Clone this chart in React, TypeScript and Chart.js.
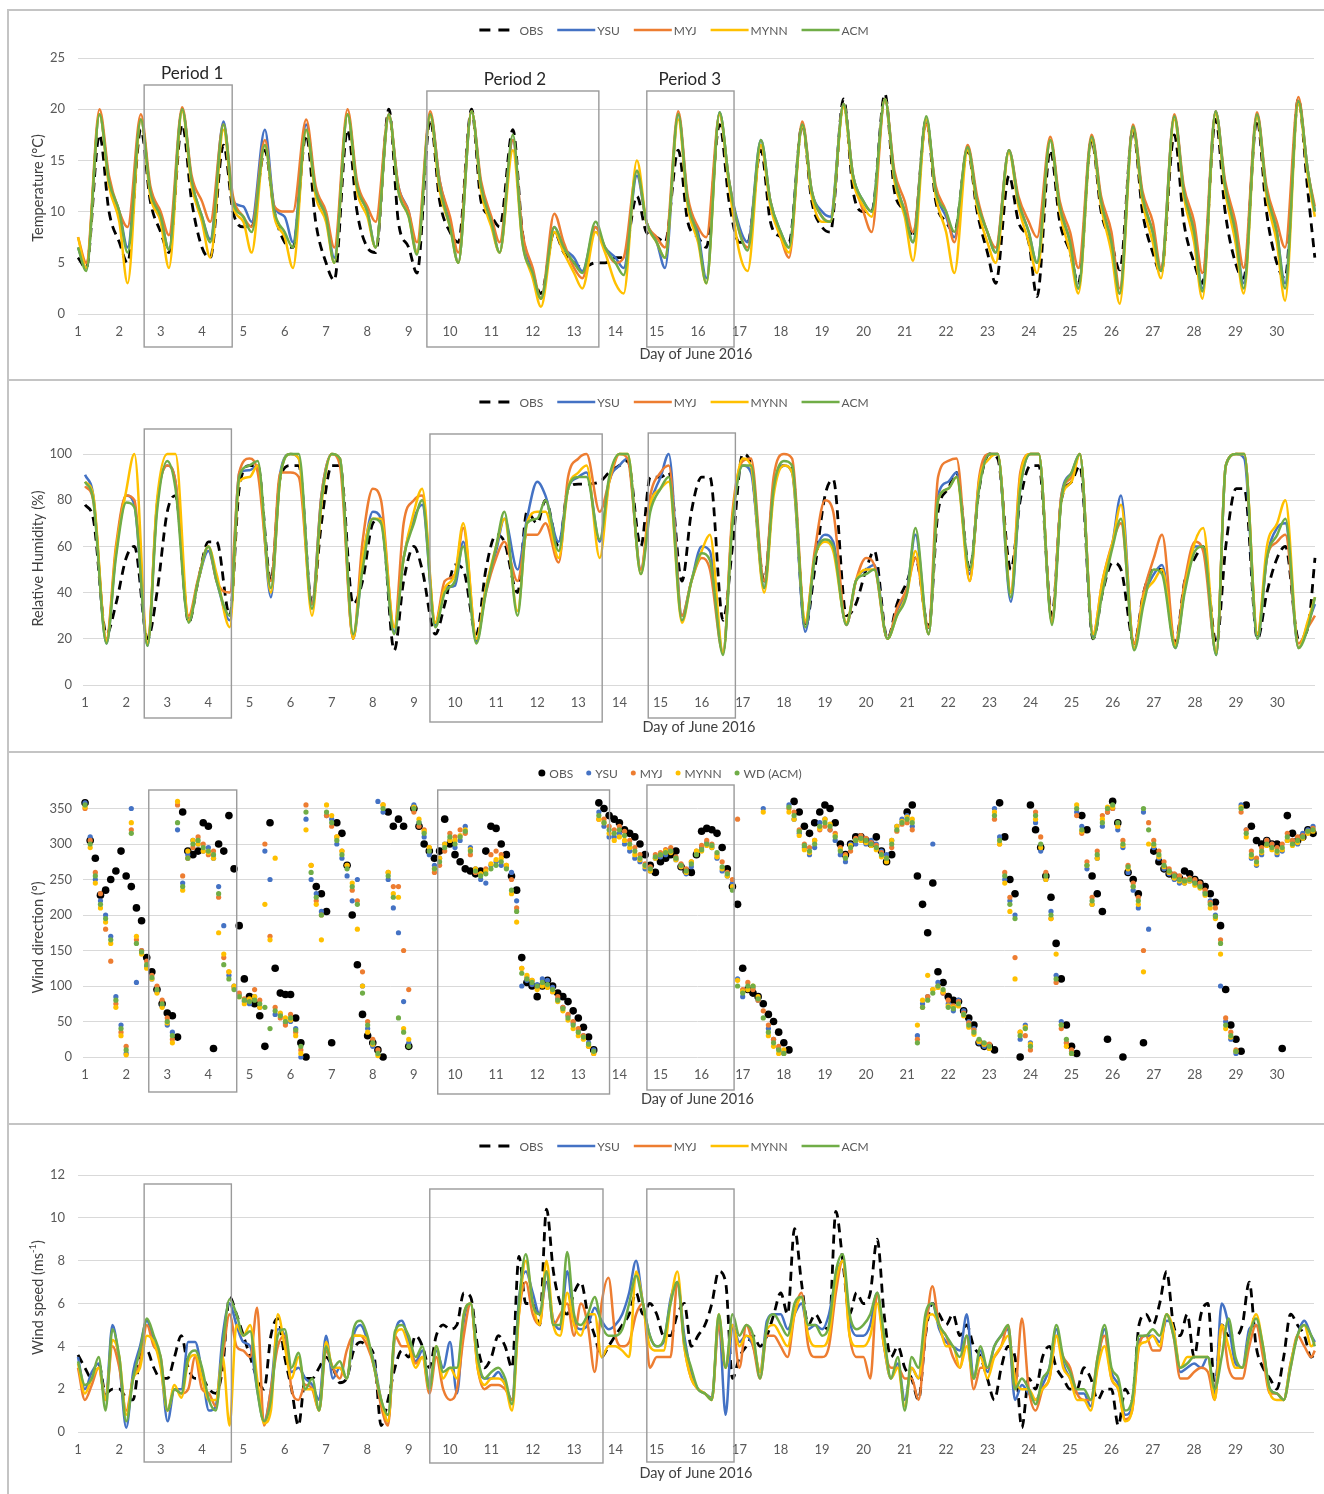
import React, { useEffect, useRef } from "react";
import { Chart, registerables } from "chart.js";

Chart.register(...registerables);

// ---------- time grids (sampling hours of the hourly record) ----------
const DAY_TICKS = [1,2,3,4,5,6,7,8,9,10,11,12,13,14,15,16,17,18,19,20,21,22,23,24,25,26,27,28,29,30];
const LINE_HOURS = [0, 4.8, 12.5, 18];
const WS_HOURS = [0, 4, 8, 12, 16, 20];
const WD_HOURS = [0, 3, 6, 9, 12, 15, 18, 21];
const LAST_TIME = 30.92;

function timeGrid(hours: number[], withEnd: boolean): number[] {
  const t: number[] = [];
  DAY_TICKS.forEach((d) => hours.forEach((h) => t.push(d + h / 24)));
  if (withEnd) t.push(LAST_TIME);
  return t;
}
const LINE_TIMES = timeGrid(LINE_HOURS, true);
const WS_TIMES = timeGrid(WS_HOURS, true);
const WD_TIMES = timeGrid(WD_HOURS, false);

// ---------- tick labels ----------
const TEMP_TICKS = [0, 5, 10, 15, 20, 25];
const RH_TICKS = [0, 20, 40, 60, 80, 100];
const WD_TICKS = [0, 50, 100, 150, 200, 250, 300, 350];
const WS_TICKS = [0, 2, 4, 6, 8, 10, 12];

const SERIES = ["OBS", "YSU", "MYJ", "MYNN", "ACM"];
const LINE_LEGEND = ["OBS", "YSU", "MYJ", "MYNN", "ACM"];
const WD_LEGEND = ["OBS", "YSU", "MYJ", "MYNN", "WD (ACM)"];

// ---------- Temperature (°C) ----------
const TEMP_OBS = [
  5.5,4.5,17.5,10, 7,5,18,11, 8,6,18.5,11, 6.5,5.5,16.5,10, 8.5,8.5,16,10,
  7,6.5,17.5,9, 5,3.3,18,10, 6.5,6,20,9, 6.5,4,19,11, 8,7,20,11,
  9.5,8.5,18,8, 4,2,8,6, 5,4.5,5,5, 5.5,5.5,11.5,8, 7.5,7,16,9,
  7.5,6.5,18.5,11, 7,7,16,9, 7.5,7,18.5,11, 8.5,8,21,12, 10,10,21.5,12,
  10,7.5,19,11, 9,8,16,10, 6,3,13.5,9, 7,1.7,16,9, 6,3,17,10,
  7,4.3,18,10, 6,4,17.5,9, 5,3,19,10, 5,3.5,19,10, 5,3.5,21,12,
  5.5,
];
const TEMP_YSU = [
  6.5,4.5,19.5,13, 10,6.5,19,12, 9.5,6.3,20,13, 9.5,7.3,18.8,11, 10.5,9,18,10.5,
  9.5,7,18.5,12, 9.5,5.5,19.5,12.5, 10,6.5,19.3,12.5, 10,6,19.5,13, 9,5,19.8,12.5,
  9,6,17,7.5, 4,1.5,8.5,6.5, 5.5,4.2,8.5,6.5, 5.5,4.5,13.5,9, 7,4.5,19.5,11,
  8,3.5,19.7,13, 8.5,7,17,11, 8,6.5,18.5,12, 10,9.5,20.5,13.5, 11,10,21,13.5,
  10,7,19,12, 9.5,7.5,16.3,11, 8,6,16,11, 8,5,17,10.5, 7,2.5,17.3,11,
  7,2,18.3,11.5, 8,4.2,19.3,12, 8,2.5,19.8,12.5, 8,3,19.5,12, 8,3,20.8,14,
  10,
];
const TEMP_MYJ = [
  7.5,5,20,13.5, 10,8.5,19.5,12.5, 10,7.7,20.2,13.5, 11,9,18.5,11.5, 9.5,8.5,17,10.5,
  10,10,19,12.5, 10,6.5,20,13, 10.5,9,19.5,12.5, 10,7,19.8,13, 9.5,6,19.8,13,
  9.5,7,17,8, 4.5,1.5,9.8,7, 4.5,3.5,8.5,6.5, 5,5.5,14,9, 7.5,6.5,19.8,11.5,
  8.5,7.5,19.5,13, 8,6.5,16.5,11, 7.5,5.5,18.8,12, 9.5,9,20.5,13.5, 10,8,21,14,
  11,8,18.5,12.5, 10,7,16.5,11.5, 8,6.5,16,11.5, 9,7.5,17.3,11, 8,4.5,17.5,11.5,
  8,2.5,18.5,12, 9,4.5,19.5,12.5, 9,4,19.8,13, 9,4.5,19.7,12.5, 9,6.5,21.2,14,
  10.5,
];
const TEMP_MYNN = [
  7.5,4.5,19.5,12.5, 9,3,19,11.5, 9,4.5,19.8,12.5, 9,5.5,18,10.5, 9,6,16.5,9.5,
  7.5,4.5,18,11.5, 9,5,19.5,12, 9.5,6.5,19.3,12, 9.5,6,19.3,12, 8.5,5,19.8,12,
  8.5,6,16,7, 3.5,0.7,8,6, 4,2.5,8,6, 3,2,15,9, 7,5.5,19,10.5,
  7,3,19.5,12.5, 6,4.2,16.5,10.5, 7.5,6,18.3,11.5, 9,9,20.2,13, 10.5,9.5,21,13,
  9.5,5.2,19,11.5, 8,4,16,10.5, 7,5,15.8,10.5, 7,4,17,10, 6,2,17,10.5,
  6,1,18,11, 7,3.5,19,11.5, 7,1.5,19.5,12, 7,2,19.2,11.5, 7,1.3,20.5,13.5,
  9.5,
];
const TEMP_ACM = [
  6.5,4.2,19.5,13, 10,6,19,12, 9.5,6.3,20,13, 9.5,7,18.5,11, 9.5,8,16.5,10,
  8,6.5,18,12, 9.5,5,19.5,12.5, 10,6.5,19.5,12, 9.5,5.8,19.5,12.5, 8.5,5,19.8,12.5,
  9,6,17.5,7, 4,1.5,8.5,6.5, 5,4,9,6.5, 5,3.8,14,9, 7,5.5,19.5,11,
  7.5,3,19.7,13, 8,6.2,17,11, 8,6.5,18.5,12, 9.5,9,20.5,13.5, 11,10,21,13.5,
  10,7,19.3,12, 10,8,16.3,11, 8,6,16,11, 8,5,17,10.5, 7,2.5,17.3,11,
  7,2,18.3,11.5, 8,4.2,19.3,12, 8,2.2,19.8,12.5, 8,2.5,19.5,12, 8,2.5,20.8,14,
  10,
];

// ---------- Relative humidity (%) ----------
const RH_OBS = [
  78,72,22,35, 55,60,20,40, 75,82,27,45, 62,62,30,85, 95,95,45,90,
  95,95,35,70, 95,95,35,45, 70,72,15,45, 60,50,22,35, 52,50,22,50,
  65,62,40,75, 70,80,60,85, 87,87,88,92, 95,97,60,90, 90,92,45,75,
  90,90,28,60, 100,95,45,85, 95,93,25,50, 82,89,30,35, 50,58,20,35,
  45,55,25,75, 85,92,50,85, 100,98,50,80, 95,95,30,80, 88,95,20,40,
  53,50,18,40, 50,50,18,45, 55,60,18,60, 85,85,20,40, 55,60,20,25,
  55,
];
const RH_YSU = [
  91,82,18,57, 82,78,17,78, 95,88,28,45, 58,45,28,92, 93,95,38,92,
  100,98,35,82, 100,98,20,52, 75,72,23,55, 72,78,26,42, 43,62,19,42,
  58,72,50,72, 88,82,62,85, 90,92,62,88, 95,98,50,78, 90,100,30,45,
  60,58,14,72, 95,92,42,85, 95,92,23,55, 65,62,26,45, 50,52,20,32,
  42,65,22,82, 88,92,48,88, 100,100,36,85, 100,100,27,82, 92,100,21,42,
  62,82,16,38, 48,52,16,42, 60,60,13,95, 100,98,20,55, 68,70,16,27,
  35,
];
const RH_MYJ = [
  86,80,20,60, 82,80,18,78, 95,88,30,46, 60,45,40,92, 98,92,45,92,
  92,90,35,82, 100,95,20,62, 85,80,25,70, 80,82,27,45, 48,68,20,40,
  55,62,45,65, 65,70,53,90, 98,100,75,88, 100,98,50,82, 92,95,30,45,
  55,50,14,75, 97,98,45,90, 100,98,27,58, 80,75,26,45, 55,52,20,33,
  42,55,25,90, 97,98,45,90, 100,100,40,92, 100,100,28,82, 90,100,22,45,
  62,70,18,40, 55,65,18,45, 62,58,14,95, 100,100,22,55, 62,65,18,25,
  30,
];
const RH_MYNN = [
  88,82,19,58, 84,100,18,80, 100,100,28,45, 60,48,25,88, 90,95,40,90,
  100,98,30,78, 100,98,20,55, 72,72,25,55, 75,85,27,42, 48,70,20,42,
  60,72,32,70, 75,75,55,85, 92,95,55,88, 100,100,48,78, 85,88,27,45,
  58,65,14,72, 98,95,40,82, 95,92,28,55, 62,58,27,45, 50,50,20,30,
  40,58,22,80, 85,90,45,88, 98,100,40,90, 100,100,27,80, 88,100,22,45,
  62,78,16,38, 45,50,17,42, 62,68,14,95, 100,100,22,60, 70,80,16,28,
  38,
];
const RH_ACM = [
  88,80,18,55, 79,77,17,75, 97,85,27,45, 60,45,30,90, 95,97,42,90,
  100,100,33,80, 100,98,22,50, 72,70,22,55, 70,80,25,40, 45,60,18,40,
  60,75,30,70, 72,80,58,85, 90,90,63,90, 100,100,48,75, 85,90,28,45,
  57,54,13,70, 95,95,42,85, 97,95,25,55, 63,60,26,45, 48,50,20,30,
  40,68,22,80, 85,90,50,85, 100,100,38,85, 100,100,26,80, 92,100,20,40,
  60,72,15,35, 50,48,16,40, 58,60,13,95, 100,100,20,55, 65,72,16,25,
  38,
];

// ---------- Wind direction (°) ----------
const WD_OBS = [
  358,305,280,228,235,250,262,290, 255,240,210,192,140,120,95,75,
  62,58,28,345,290,285,290,330, 325,12,300,290,340,265,185,110,
  85,75,58,15,330,125,90,88, 88,55,20,0,null,240,230,205,
  20,330,315,270,200,130,60,30, 20,10,0,345,325,335,325,15,
  350,325,300,290,280,290,335,300, 285,275,265,262,258,262,290,325,
  322,300,285,255,235,140,105,100, 85,100,108,100,90,85,78,65,
  55,42,28,10,358,350,340,335, 330,320,315,310,300,285,270,260,
  275,280,285,290,268,262,260,285, 318,322,320,315,295,265,240,215,
  125,95,90,85,75,60,50,35, 20,10,360,345,325,315,330,345,
  355,350,330,300,285,300,310,310, 305,300,310,290,275,285,null,null,
  345,355,255,215,175,245,120,105, 85,80,78,65,55,45,20,15,
  15,10,358,310,250,230,0,null, 355,320,295,255,225,160,110,45,
  15,5,340,320,255,230,205,25, 360,330,0,260,250,230,20,null,
  290,275,265,258,255,252,262,258, 250,245,240,230,218,185,95,45,
  25,8,355,325,305,300,305,300, 300,12,340,315,305,310,320,315,
];
const WD_YSU = [
  358,310,250,220,200,170,85,45, 5,350,105,150,128,110,92,72,
  45,35,320,245,285,305,300,290, 295,280,240,185,115,100,88,78,
  75,85,70,290,250,60,60,48, 50,40,0,335,250,230,205,340,
  335,300,280,255,220,250,100,40, 15,360,345,250,210,175,78,20,
  355,330,310,285,270,280,300,305, 295,305,325,295,265,250,245,270,
  275,270,268,260,220,100,108,102, 102,110,108,98,82,70,58,48,
  38,30,20,10,345,325,310,310, 315,300,290,280,275,265,262,280,
  282,285,292,278,268,258,268,288, 295,302,295,280,262,255,245,110,
  85,95,98,80,350,40,25,12, 8,355,335,315,295,285,295,330,
  335,320,305,285,275,300,300,310, 300,305,300,290,285,305,325,335,
  340,325,30,75,85,300,105,90, 75,65,80,65,50,40,20,15,
  12,350,310,250,220,200,25,45, 20,330,290,250,205,115,50,20,
  8,345,325,265,215,280,325,345, 350,320,295,260,235,210,345,180,
  295,280,265,258,250,245,245,248, 248,242,232,220,200,100,50,25,
  5,355,320,280,270,285,305,300, 285,290,305,305,300,315,320,325,
];
const WD_MYJ = [
  350,305,260,230,180,135,75,35, 15,320,165,150,135,115,100,80,
  55,25,355,255,280,295,310,300, 285,290,225,140,120,98,90,82,
  80,95,80,300,170,70,55,45, 60,35,10,355,270,220,200,340,
  325,310,290,270,235,220,120,50, 25,10,355,260,240,240,150,95,
  345,325,320,295,260,270,290,315, 310,320,315,285,260,258,265,285,
  290,285,270,250,210,125,112,108, 98,102,100,92,85,70,60,50,
  40,30,15,5,335,335,325,320, 325,318,305,295,285,272,268,285,
  288,292,295,282,272,265,275,290, 298,305,300,285,275,260,250,335,
  95,105,95,80,65,45,25,15, 5,350,345,320,300,295,305,320,
  325,320,315,295,285,290,308,312, 308,302,298,288,280,295,318,328,
  330,320,25,70,85,95,100,90, 80,72,78,62,48,38,22,18,
  18,335,300,260,225,140,35,30, 10,345,310,260,195,105,40,20,
  10,340,315,275,225,290,340,345, 350,325,305,270,245,225,150,330,
  305,290,275,265,258,255,250,252, 250,245,235,218,210,165,55,35,
  10,345,320,290,280,295,305,300, 295,300,315,305,310,312,318,322,
];
const WD_MYNN = [
  352,295,245,210,190,160,70,30, 3,330,170,145,125,110,90,70,
  48,20,360,235,290,305,300,290, 288,280,175,145,120,100,85,75,
  82,85,70,215,165,280,62,55, 52,30,5,320,270,215,165,355,
  340,310,290,270,245,180,100,35, 18,2,355,260,230,225,40,25,
  352,335,318,295,265,280,300,305, 305,312,320,292,265,258,262,272,
  278,280,270,230,190,125,115,108, 95,100,98,92,78,65,52,40,
  30,25,15,5,335,330,315,305, 310,305,295,285,278,268,262,280,
  285,290,288,278,268,260,275,290, 290,298,295,282,265,255,240,108,
  92,95,100,85,345,30,15,5, 10,345,335,312,292,288,305,322,
  335,328,312,292,282,298,305,305, 302,298,292,282,275,305,325,332,
  338,335,45,80,115,95,98,92, 72,70,72,58,42,32,22,18,
  12,345,300,245,205,110,35,42, 18,335,295,250,195,145,45,15,
  5,355,318,270,215,280,335,352, 352,325,298,265,240,215,120,300,
  298,282,268,260,252,248,245,248, 242,238,228,210,195,145,40,28,
  8,352,310,282,272,288,298,292, 288,292,305,298,302,308,315,318,
];
const WD_ACM = [
  355,300,255,215,195,165,80,40, 10,315,160,148,130,112,95,75,
  50,30,330,240,280,300,305,295, 290,285,230,130,110,95,85,80,
  78,80,75,70,40,65,58,50, 55,38,15,345,260,225,200,345,
  330,305,285,265,240,215,90,45, 20,5,350,255,225,55,35,15,
  350,330,315,290,265,275,295,310, 300,310,318,290,262,255,258,265,
  270,275,265,235,205,118,110,105, 100,105,102,95,80,68,55,45,
  35,28,18,8,340,330,320,315, 320,312,300,290,280,270,265,282,
  285,288,290,280,270,262,272,285, 292,300,298,288,268,258,235,100,
  90,100,100,82,55,35,20,10, 5,352,340,318,298,290,300,325,
  330,325,310,290,280,295,305,308, 305,300,295,285,280,300,320,330,
  335,330,20,70,80,90,100,95, 70,68,75,60,45,35,25,20,
  15,340,305,255,215,195,30,40, 15,340,300,255,200,110,45,25,
  5,350,320,270,220,285,330,350, 355,330,300,268,240,220,350,320,
  300,285,270,262,255,250,248,250, 245,240,230,215,198,160,45,30,
  8,350,315,285,275,290,300,295, 290,295,310,300,305,310,318,320,
];

// ---------- Wind speed (m/s) ----------
const WS_OBS = [
  3.6,3.0,2.5,3.2,1.8,2.0, 2.0,1.6,1.5,3.5,3.8,3.0, 2.5,2.5,3.5,4.5,3.0,2.5, 2.5,2.0,1.8,3.0,6.3,5.5, 4.5,3.5,2.5,2.0,4.5,5.3,
  3.5,2.0,0.3,2.5,2.5,3.0, 3.5,3.0,2.3,2.5,3.8,4.2, 4.0,3.5,0.3,1.5,3.0,3.8, 3.5,4.5,4.0,3.0,4.5,5.0, 4.8,5.0,6.5,6.3,4.0,3.0,
  3.5,4.5,4.0,3.0,8.2,6.0, 6.0,5.0,10.4,7.5,6.0,5.5, 6.5,7.0,5.5,4.5,3.5,4.0, 4.5,5.0,5.5,6.5,5.5,6.0, 5.5,4.5,4.5,5.5,6.0,4.0,
  4.5,5.0,6.0,7.5,7.0,2.5, 3.5,4.0,4.5,4.0,4.5,5.5, 6.5,5.5,9.5,7.0,5.0,5.5, 5.0,4.8,10.3,8.0,5.5,6.5, 6.0,6.5,9.0,5.5,3.5,4.0,
  3.0,2.5,1.5,4.5,6.0,5.5, 5.0,5.5,4.5,5.0,4.0,3.5, 2.5,1.5,3.0,4.0,3.5,0.2, 2.5,2.0,3.5,4.0,3.0,2.5, 2.0,2.0,3.0,2.5,1.5,2.0,
  2.0,0.3,2.0,1.5,5.0,5.5, 5.0,6.0,7.5,5.0,4.5,5.5, 3.5,5.5,6.0,2.0,5.0,4.5, 4.5,5.0,7.0,4.0,3.0,2.5, 2.0,3.5,5.5,5.0,4.5,3.5,
  3.6,
];
const WS_YSU = [
  3.5,2.0,2.8,3.2,1.5,5.0, 3.2,0.2,2.8,4.0,5.2,4.2, 3.2,0.5,2.0,2.0,4.2,4.2, 2.8,1.0,1.2,4.5,6.0,5.0, 4.2,4.0,2.0,0.5,2.0,4.8,
  4.5,2.8,3.0,2.5,2.2,1.5, 4.5,2.5,3.0,2.5,4.5,5.0, 4.3,3.2,1.5,0.5,4.5,5.2, 4.2,3.3,3.8,2.2,3.8,3.0, 4.2,1.8,5.2,6.0,3.2,2.5,
  2.5,2.8,2.2,1.5,6.2,7.5, 6.5,5.5,7.0,5.2,4.8,7.5, 5.2,4.8,5.0,5.8,5.2,4.8, 5.0,5.5,6.5,8.0,6.0,4.5, 4.0,4.2,6.2,7.0,4.5,2.8,
  2.0,1.8,1.6,5.2,0.8,5.0, 4.2,4.5,4.0,2.8,5.2,5.5, 5.5,4.8,5.5,6.0,4.8,5.0, 4.8,5.5,7.2,8.0,5.2,4.5, 4.5,5.0,6.5,4.0,2.5,3.2,
  1.5,3.0,2.5,5.2,6.0,4.8, 4.2,4.0,3.8,5.5,2.5,3.8, 2.8,4.0,4.5,4.8,1.5,2.2, 1.8,1.5,2.2,3.0,4.8,3.2, 2.5,1.8,1.8,1.2,3.2,4.8,
  2.8,2.2,0.8,1.2,4.2,4.5, 4.5,4.2,5.2,4.8,2.8,3.0, 3.2,3.0,3.5,1.8,6.0,5.0, 3.2,3.0,4.8,5.0,3.8,2.0, 1.8,1.5,3.2,4.5,5.2,4.5,
  4.2,
];
const WS_MYJ = [
  3.0,1.5,2.2,3.0,1.5,4.0, 3.0,1.0,2.5,3.2,5.0,4.0, 3.5,1.0,2.0,1.8,2.0,3.5, 2.0,1.8,1.2,3.5,5.5,4.0, 3.8,3.5,5.8,0.3,2.0,4.0,
  4.5,2.0,1.5,2.2,2.0,1.0, 3.8,3.0,2.5,3.8,4.5,4.5, 4.0,3.0,1.2,0.3,4.5,4.0, 4.0,3.2,3.5,1.8,3.5,2.0, 1.5,2.0,4.5,6.0,3.0,2.0,
  2.2,2.2,2.0,1.5,5.5,7.0, 5.5,5.0,7.5,5.0,5.5,6.0, 4.5,6.0,5.0,2.8,6.0,7.2, 4.5,4.0,4.2,5.5,6.0,3.0, 3.5,3.5,3.5,7.0,4.0,2.5,
  2.0,1.8,1.5,5.0,3.0,5.0, 3.0,5.0,4.0,2.5,4.5,4.5, 4.0,3.5,5.5,6.5,4.0,3.5, 3.5,4.0,6.5,8.0,4.5,3.5, 3.5,2.5,6.5,4.0,3.0,3.0,
  2.5,2.5,1.5,4.5,6.8,5.0, 4.5,3.5,3.0,4.5,2.0,3.0, 3.0,3.5,4.0,5.0,2.0,5.3, 2.0,1.0,2.0,2.5,4.5,3.5, 3.0,1.8,1.5,1.5,3.5,4.5,
  2.5,2.0,0.6,1.0,4.0,4.5, 3.8,3.8,5.5,4.5,2.5,2.5, 2.8,3.0,2.8,1.5,5.0,3.0, 2.5,2.5,4.0,5.0,3.5,1.8, 1.8,1.5,3.0,4.5,4.0,3.5,
  3.8,
];
const WS_MYNN = [
  3.2,1.8,2.5,3.0,1.5,4.3, 3.5,0.8,2.5,3.0,4.5,4.2, 3.0,1.0,2.2,1.6,3.3,3.6, 2.5,1.5,1.5,3.5,0.3,5.0, 4.5,5.0,2.5,0.4,1.0,5.5,
  4.0,2.5,3.5,2.0,2.0,1.0, 4.2,3.0,3.0,2.5,4.5,4.5, 4.3,3.0,1.5,0.5,4.5,4.8, 4.0,3.0,3.5,2.0,4.0,2.5, 3.0,2.5,5.5,6.0,3.0,2.2,
  2.5,2.5,2.2,1.0,5.5,8.0, 6.0,5.0,8.0,5.0,4.5,6.5, 5.0,4.5,5.5,5.5,3.5,4.0, 4.0,3.8,3.5,7.5,6.0,4.0, 3.8,3.8,6.0,7.5,4.0,2.5,
  2.0,1.8,1.5,5.5,3.0,5.0, 4.0,4.5,4.2,2.8,4.8,5.0, 4.5,4.0,5.5,6.3,4.5,4.0, 4.0,4.5,7.0,8.0,4.5,4.0, 4.0,4.5,6.0,4.0,2.5,3.0,
  1.2,3.0,2.5,5.0,5.5,5.0, 4.0,4.0,3.0,4.0,2.5,3.5, 2.5,3.5,4.0,4.5,2.5,2.0, 2.0,1.5,2.0,2.5,4.5,3.0, 2.5,1.5,1.5,1.0,3.0,4.0,
  2.5,2.0,0.5,1.0,4.0,4.2, 4.5,4.0,5.5,4.8,3.0,3.5, 3.5,3.5,3.5,1.5,5.0,4.0, 3.0,3.0,4.5,5.5,4.0,1.8, 1.5,1.5,3.2,4.5,5.0,4.0,
  4.2,
];
const WS_ACM = [
  3.3,2.2,2.5,3.5,1.0,4.8, 3.5,0.5,2.5,3.8,5.3,4.5, 3.5,1.0,2.0,1.8,3.5,3.8, 3.0,1.5,1.0,4.0,6.2,5.5, 4.5,4.7,2.0,0.5,1.5,4.5,
  4.8,3.0,3.7,2.0,2.5,1.0, 4.0,3.0,3.3,2.5,4.8,5.2, 4.5,3.0,1.5,0.8,4.7,5.0, 4.5,3.5,4.0,2.0,4.0,2.8, 3.0,3.0,5.5,6.0,3.5,2.5,
  2.8,3.0,2.5,1.3,6.0,8.3, 6.0,5.5,7.5,5.0,5.0,8.4, 5.5,5.0,5.5,6.3,5.0,4.5, 4.5,4.8,6.0,7.3,6.0,4.5, 4.0,4.3,6.0,7.0,4.2,3.0,
  2.0,1.8,1.5,5.5,3.0,5.5, 4.5,5.0,4.5,2.5,5.0,5.5, 5.0,4.5,6.0,6.3,5.0,5.0, 4.5,5.0,7.5,8.3,5.5,4.8, 5.0,5.5,6.5,4.5,2.5,3.5,
  1.0,3.5,3.0,5.5,6.0,5.0, 4.5,4.0,3.5,4.5,2.5,4.0, 3.0,4.0,4.5,5.0,2.0,2.5, 2.0,1.3,2.5,3.0,5.0,3.5, 2.8,2.0,2.0,1.5,3.5,5.0,
  3.0,2.5,1.0,1.5,4.5,4.5, 4.8,4.5,5.5,4.5,3.0,3.2, 3.5,3.5,3.5,2.0,3.5,5.3, 3.5,3.0,4.5,5.3,4.0,2.0, 1.8,1.5,3.0,4.5,5.0,4.5,
  4.0,
];

// ---------- styling ----------
const W = 1324;
const COLORS: Record<string, string> = {
  OBS: "#000000",
  YSU: "#4472C4",
  MYJ: "#ED7D31",
  MYNN: "#FFC000",
  ACM: "#70AD47",
};
const TICK_COLOR = "#595959";
const TITLE_COLOR = "#404040";
const FONT = "Lato";

type Box = { x0: number; x1: number; y0: number; y1: number };
type Panel = any;

const PANELS: Panel[] = [
  {
    key: "temp", top: 10, height: 370,
    area: { top: 48, bottom: 304, left: 78, right: 1314 },
    xMin: 1, xMax: 30.9, yMin: 0, yMax: 25, yTicks: TEMP_TICKS, yLabelPad: 13,
    yTitle: [{ t: "Temperature (°C)" }], yTitleShift: 2, xTitleOffset: 40,
    kind: "line", times: LINE_TIMES,
    values: { OBS: TEMP_OBS, YSU: TEMP_YSU, MYJ: TEMP_MYJ, MYNN: TEMP_MYNN, ACM: TEMP_ACM },
    boxes: [
      { x0: 2.6, x1: 4.73, y0: 75, y1: 337 },
      { x0: 9.44, x1: 13.6, y0: 81, y1: 337 },
      { x0: 14.76, x1: 16.87, y0: 81, y1: 337 },
    ],
    periodLabels: [
      { text: "Period 1", x: 3.76, y: 64 },
      { text: "Period 2", x: 11.57, y: 70 },
      { text: "Period 3", x: 15.8, y: 70 },
    ],
    legendY: 20, legendCX: 674, legendNames: LINE_LEGEND,
  },
  {
    key: "rh", top: 380, height: 372,
    area: { top: 74, bottom: 305, left: 83, right: 1315 },
    xMin: 0.95, xMax: 30.92, yMin: 0, yMax: 100, yTicks: RH_TICKS, yLabelPad: 11,
    yTitle: [{ t: "Relative Humidity (%)" }], yTitleShift: -11, xTitleOffset: 42,
    kind: "line", times: LINE_TIMES,
    values: { OBS: RH_OBS, YSU: RH_YSU, MYJ: RH_MYJ, MYNN: RH_MYNN, ACM: RH_ACM },
    boxes: [
      { x0: 2.44, x1: 4.56, y0: 49, y1: 338 },
      { x0: 9.39, x1: 13.58, y0: 54, y1: 342 },
      { x0: 14.7, x1: 16.82, y0: 53, y1: 338 },
    ],
    periodLabels: [],
    legendY: 22, legendCX: 674, legendNames: LINE_LEGEND,
  },
  {
    key: "wd", top: 752, height: 372,
    area: { top: 48, bottom: 305, left: 83, right: 1312 },
    xMin: 0.95, xMax: 30.85, yMin: 0, yMax: 362, yTicks: WD_TICKS, yLabelPad: 11,
    yTitle: [{ t: "Wind direction (°)" }], yTitleShift: 9, xTitleOffset: 42,
    kind: "scatter", times: WD_TIMES,
    values: { OBS: WD_OBS, YSU: WD_YSU, MYJ: WD_MYJ, MYNN: WD_MYNN, ACM: WD_ACM },
    boxes: [
      { x0: 2.55, x1: 4.69, y0: 38, y1: 340 },
      { x0: 9.58, x1: 13.76, y0: 38, y1: 342 },
      { x0: 14.67, x1: 16.79, y0: 33, y1: 338 },
    ],
    periodLabels: [],
    legendY: 21, legendCX: 670, legendNames: WD_LEGEND,
  },
  {
    key: "ws", top: 1124, height: 370,
    area: { top: 51, bottom: 308, left: 78, right: 1314 },
    xMin: 1, xMax: 30.9, yMin: 0, yMax: 12, yTicks: WS_TICKS, yLabelPad: 13,
    yTitle: [{ t: "Wind speed (ms" }, { t: "-1", sup: true }, { t: ")" }], yTitleShift: -6, xTitleOffset: 41,
    kind: "line", times: WS_TIMES,
    values: { OBS: WS_OBS, YSU: WS_YSU, MYJ: WS_MYJ, MYNN: WS_MYNN, ACM: WS_ACM },
    boxes: [
      { x0: 2.6, x1: 4.71, y0: 60, y1: 338 },
      { x0: 9.51, x1: 13.7, y0: 65, y1: 339 },
      { x0: 14.76, x1: 16.87, y0: 65, y1: 338 },
    ],
    periodLabels: [],
    legendY: 22, legendCX: 674, legendNames: LINE_LEGEND,
  },
];

function drawLegend(ctx: CanvasRenderingContext2D, p: Panel) {
  ctx.save();
  ctx.font = `12px ${FONT}`;
  const isLine = p.kind === "line";
  const items = SERIES.map((s, i) => {
    const name = p.legendNames[i];
    const tw = ctx.measureText(name).width;
    let sw: number, gap: number;
    if (isLine) {
      sw = s === "OBS" ? 30 : 38;
      gap = s === "OBS" ? 10 : 2;
    } else {
      sw = s === "OBS" ? 7 : 5;
      gap = 4;
    }
    return { s, name, tw, sw, gap, w: sw + gap + tw };
  });
  const spacing = isLine ? 14 : 13;
  const total = items.reduce((a, it) => a + it.w, 0) + spacing * (items.length - 1);
  let x = p.legendCX - total / 2;
  const y = p.legendY;
  items.forEach((it) => {
    const c = COLORS[it.s];
    if (isLine) {
      ctx.beginPath();
      ctx.strokeStyle = c;
      ctx.lineWidth = it.s === "OBS" ? 3 : 2.5;
      ctx.setLineDash(it.s === "OBS" ? [11, 8] : []);
      ctx.moveTo(x, y);
      ctx.lineTo(x + it.sw, y);
      ctx.stroke();
      ctx.setLineDash([]);
    } else {
      ctx.beginPath();
      ctx.fillStyle = c;
      ctx.arc(x + it.sw / 2, y, it.sw / 2, 0, Math.PI * 2);
      ctx.fill();
    }
    ctx.fillStyle = TICK_COLOR;
    ctx.textAlign = "left";
    ctx.textBaseline = "middle";
    ctx.fillText(it.name, x + it.sw + it.gap, y + 1);
    x += it.w + spacing;
  });
  ctx.restore();
}

function makeOverlay(p: Panel) {
  return {
    id: "overlay_" + p.key,
    afterDraw(chart: any) {
      const ctx: CanvasRenderingContext2D = chart.ctx;
      const xs = chart.scales.x;
      const area = chart.chartArea;
      ctx.save();
      // period boxes
      ctx.strokeStyle = "#9a9a9a";
      ctx.lineWidth = 1.4;
      (p.boxes as Box[]).forEach((b) => {
        const x0 = xs.getPixelForValue(b.x0);
        const x1 = xs.getPixelForValue(b.x1);
        ctx.strokeRect(x0, b.y0, x1 - x0, b.y1 - b.y0);
      });
      // period labels
      ctx.fillStyle = "#262626";
      ctx.font = `17px ${FONT}`;
      ctx.textAlign = "center";
      ctx.textBaseline = "middle";
      p.periodLabels.forEach((l: any) => ctx.fillText(l.text, xs.getPixelForValue(l.x), l.y));
      // x title
      ctx.fillStyle = TITLE_COLOR;
      ctx.font = `14.5px ${FONT}`;
      ctx.fillText("Day of June 2016", (area.left + area.right) / 2, area.bottom + p.xTitleOffset);
      // y title (rotated, with optional superscript)
      ctx.save();
      ctx.translate(38, (area.top + area.bottom) / 2 + p.yTitleShift);
      ctx.rotate(-Math.PI / 2);
      const big = `14.5px ${FONT}`;
      const small = `9.5px ${FONT}`;
      const widths = p.yTitle.map((part: any) => {
        ctx.font = part.sup ? small : big;
        return ctx.measureText(part.t).width;
      });
      const tot = widths.reduce((a: number, b: number) => a + b, 0);
      let tx = -tot / 2;
      ctx.textAlign = "left";
      p.yTitle.forEach((part: any, i: number) => {
        ctx.font = part.sup ? small : big;
        ctx.fillText(part.t, tx, part.sup ? -5 : 0);
        tx += widths[i];
      });
      ctx.restore();
      ctx.restore();
      drawLegend(ctx, p);
    },
  };
}

function PanelChart({ p }: { p: Panel }) {
  const ref = useRef<HTMLCanvasElement>(null);
  useEffect(() => {
    const canvas = ref.current;
    if (!canvas) return;
    const datasets = SERIES.map((s, i) => {
      const vals = p.values[s];
      const data = p.times
        .map((x: number, j: number) => ({ x, y: vals[j] }))
        .filter((d: any) => d.y !== null && d.y !== undefined);
      if (p.kind === "line") {
        return {
          label: s,
          data,
          borderColor: COLORS[s],
          backgroundColor: COLORS[s],
          borderWidth: s === "OBS" ? 2.8 : 2.5,
          borderDash: s === "OBS" ? [9, 6] : [],
          pointRadius: 0,
          cubicInterpolationMode: "monotone",
          fill: false,
          order: 4 - i,
          clip: false,
        };
      }
      return {
        label: s,
        data,
        backgroundColor: COLORS[s],
        borderWidth: 0,
        pointRadius: s === "OBS" ? 3.8 : 2.6,
        order: 4 - i,
        clip: false,
      };
    });
    const tickFont = { family: FONT, size: 13 };
    const chart = new Chart(canvas, {
      type: p.kind === "line" ? "line" : "scatter",
      data: { datasets } as any,
      options: {
        animation: false,
        responsive: false,
        devicePixelRatio: 1,
        events: [],
        layout: { padding: { top: p.area.top, left: 0, right: W - p.area.right, bottom: 0 } },
        plugins: { legend: { display: false }, tooltip: { enabled: false } },
        scales: {
          x: {
            type: "linear",
            min: p.xMin,
            max: p.xMax,
            afterBuildTicks: (s: any) => {
              s.ticks = DAY_TICKS.map((v) => ({ value: v }));
            },
            ticks: { autoSkip: false, maxRotation: 0, color: TICK_COLOR, font: tickFont, padding: 10 },
            grid: { display: false, drawTicks: false },
            border: { display: false },
            afterFit: (s: any) => {
              s.height = p.height - p.area.bottom;
            },
          },
          y: {
            type: "linear",
            min: p.yMin,
            max: p.yMax,
            afterBuildTicks: (s: any) => {
              s.ticks = p.yTicks.map((v: number) => ({ value: v }));
            },
            ticks: { color: TICK_COLOR, font: tickFont, padding: p.yLabelPad },
            grid: { color: "#d9d9d9", drawTicks: false, lineWidth: 1 },
            border: { display: false },
            afterFit: (s: any) => {
              s.width = p.area.left;
            },
          },
        },
      } as any,
      plugins: [makeOverlay(p)],
    });
    return () => chart.destroy();
  }, [p]);
  return <canvas ref={ref} width={W} height={p.height} style={{ display: "block" }} />;
}

export default function App() {
  return (
    <div
      style={{
        position: "absolute",
        left: 0,
        top: 0,
        width: W,
        height: 1494,
        background: "#ffffff",
        overflow: "hidden",
      }}
    >
      {PANELS.map((p) => (
        <div key={p.key} style={{ position: "absolute", left: 0, top: p.top, width: W, height: p.height }}>
          <PanelChart p={p} />
        </div>
      ))}
      {PANELS.map((p) => (
        <div
          key={"line_" + p.key}
          style={{ position: "absolute", left: 7, top: p.top - 1, width: W - 7, height: 2, background: "#c4c4c4" }}
        />
      ))}
      <div style={{ position: "absolute", left: 7, top: 9, width: 2, height: 1485, background: "#c4c4c4" }} />
    </div>
  );
}
